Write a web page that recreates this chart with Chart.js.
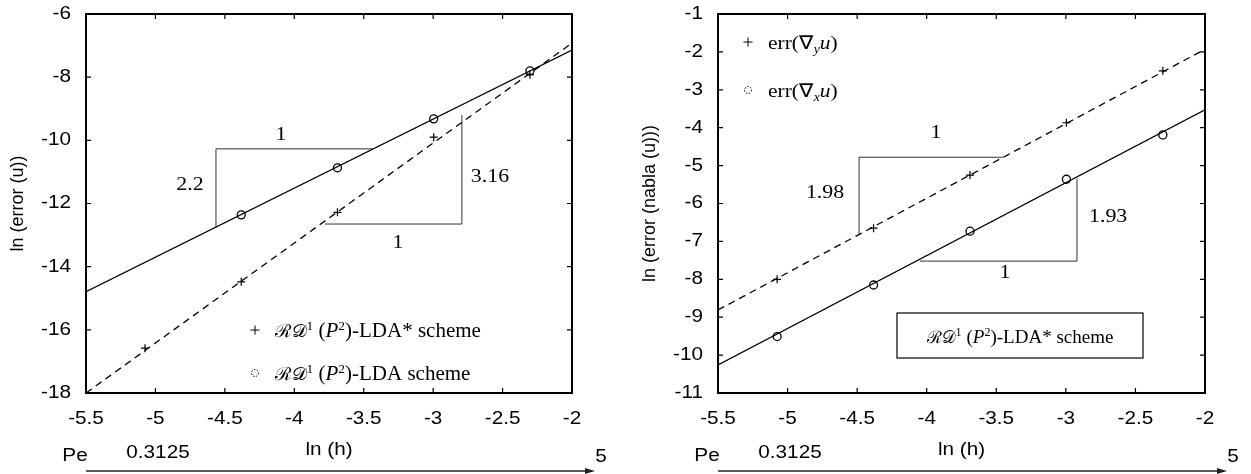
<!DOCTYPE html>
<html>
<head>
<meta charset="utf-8">
<script src="https://cdn.jsdelivr.net/npm/chart.js@4.4.1/dist/chart.umd.min.js"></script>
<style>
    html, body { margin: 0; padding: 0; background: #fff; }
    #wrap { position: relative; width: 1251px; height: 474px; }
    canvas { position: absolute; top: 0; }
    #leftChart { left: 0; }
    #rightChart { left: 625px; }
</style>
</head>
<body>
<div id="wrap">
    <canvas id="leftChart" width="625" height="474"></canvas>
    <canvas id="rightChart" width="626" height="474"></canvas>
</div>
<script>
// ln(h) for h = 1/160, 1/80, 1/40, 1/20, 1/10
const lnH = [-5.075, -4.382, -3.689, -2.996, -2.303];
const xTicks = { min: -5.5, max: -2, step: 0.5 };

// left panel: ln(error(u))
const ldaStar = [-16.58, -14.48, -12.28, -9.9, -7.92];
const ldaPlain = [null, -12.36, -10.87, -9.32, -7.8];
const ldaStarFit = [[-5.5, -18.0], [-2.0, -6.92]];
const ldaPlainFit = [[-5.5, -14.79], [-2.0, -7.14]];
const leftTriA = [[-4.564, -12.75], [-4.564, -10.27], [-3.437, -10.27]];
const leftTriB = [[-3.78, -12.65], [-2.793, -12.65], [-2.793, -9.2]];
const leftSlopeText = ['1', '2.2', '3.16', '1'];
const leftSlopeAt = [[-4.096, -9.83], [-4.751, -11.41], [-2.591, -11.16], [-3.254, -13.25]];
const leftY = { min: -18, max: -6, step: 2 };

// right panel: ln(error(nabla(u)))
const errGradY = [-8.0, -6.65, -5.25, -3.87, -2.5];
const errGradX = [-9.51, -8.15, -6.73, -5.36, -4.19];
const errGradYFit = [[-5.5, -8.81], [-2.0, -1.93]];
const errGradXFit = [[-5.5, -10.26], [-2.0, -3.53]];
const rightTriA = [[-4.486, -6.83], [-4.486, -4.78], [-3.449, -4.78]];
const rightTriB = [[-4.049, -7.52], [-2.92, -7.52], [-2.92, -5.34]];
const rightSlopeText = ['1', '1.98', '1.93', '1'];
const rightSlopeAt = [[-3.933, -4.14], [-4.731, -5.72], [-2.696, -6.36], [-3.437, -7.83]];
const rightY = { min: -11, max: -1, step: 1 };

const SANS = "'Liberation Sans', Arial, sans-serif";
const SERIF = "'Liberation Serif', 'Times New Roman', serif";
const SCRIPT = "'DejaVu Serif', serif";
const STRETCH = 1.15; // the original figure is a bit wider than tall

const schemeStar = [
    { t: 'ℛ𝒟', family: SCRIPT, scale: 0.9 }, { t: '1', sup: true }, { t: ' (' },
    { t: 'P', italic: true }, { t: '2', sup: true }, { t: ')-LDA* scheme' }
];
const schemePlain = [
    { t: 'ℛ𝒟', family: SCRIPT, scale: 0.9 }, { t: '1', sup: true }, { t: ' (' },
    { t: 'P', italic: true }, { t: '2', sup: true }, { t: ')-LDA scheme' }
];
const gradY = [{ t: 'err(∇' }, { t: 'y', italic: true, sub: true }, { t: 'u', italic: true }, { t: ')' }];
const gradX = [{ t: 'err(∇' }, { t: 'x', italic: true, sub: true }, { t: 'u', italic: true }, { t: ')' }];

function pts(xs, ys) {
    return xs.map((x, i) => ({ x: x, y: ys[i] })).filter(p => p.y !== null);
}
function pairs(arr) {
    return arr.map(p => ({ x: p[0], y: p[1] }));
}
function fmt(v) {
    return String(Math.round(v * 10) / 10);
}

// plain text, stretched horizontally around its anchor
function text(ctx, s, x, y, font, align, baseline, sx) {
    ctx.save();
    ctx.translate(x, y);
    ctx.scale(sx || STRETCH, 1);
    ctx.font = font;
    ctx.textAlign = align;
    ctx.textBaseline = baseline;
    ctx.fillText(s, 0, 0);
    ctx.restore();
}

function drawRich(ctx, runs, x, y, size, align, sx) {
    const parts = runs.map(r => {
        let s = r.sup || r.sub ? size * 0.64 : size;
        if (r.scale) s = s * r.scale;
        const font = (r.italic ? 'italic ' : '') + s + 'px ' + (r.family || SERIF);
        ctx.font = font;
        const dy = r.sup ? -size * 0.36 : (r.sub ? size * 0.22 : 0);
        return { t: r.t, font: font, w: ctx.measureText(r.t).width, dy: dy };
    });
    const total = parts.reduce((a, p) => a + p.w, 0);
    ctx.save();
    ctx.translate(x, y);
    ctx.scale(sx, 1);
    let cx = align === 'center' ? -total / 2 : 0;
    ctx.textAlign = 'left';
    ctx.textBaseline = 'alphabetic';
    parts.forEach(p => {
        ctx.font = p.font;
        ctx.fillText(p.t, cx, p.dy);
        cx += p.w;
    });
    ctx.restore();
}

function drawPlus(ctx, x, y, r) {
    ctx.beginPath();
    ctx.moveTo(x - r, y); ctx.lineTo(x + r, y);
    ctx.moveTo(x, y - r); ctx.lineTo(x, y + r);
    ctx.stroke();
}

const extrasPlugin = {
    id: 'extras',
    afterDatasetsDraw(chart, args, opts) {
        const ctx = chart.ctx;
        const a = chart.chartArea;
        const xs = chart.scales.x, ys = chart.scales.y;
        const sans = '18px ' + SANS;
        ctx.save();
        ctx.fillStyle = '#000';
        ctx.strokeStyle = '#000';

        // frame
        ctx.lineWidth = 2;
        ctx.strokeRect(a.left, a.top, a.right - a.left, a.bottom - a.top);

        // inner tick marks on all four sides, plus tick labels
        ctx.lineWidth = 1.2;
        ctx.beginPath();
        xs.ticks.forEach(t => {
            const px = xs.getPixelForValue(t.value);
            ctx.moveTo(px, a.bottom); ctx.lineTo(px, a.bottom - 5);
            ctx.moveTo(px, a.top); ctx.lineTo(px, a.top + 5);
        });
        ys.ticks.forEach(t => {
            const py = ys.getPixelForValue(t.value);
            ctx.moveTo(a.left, py); ctx.lineTo(a.left + 5, py);
            ctx.moveTo(a.right, py); ctx.lineTo(a.right - 5, py);
        });
        ctx.stroke();
        xs.ticks.forEach(t => {
            text(ctx, fmt(t.value), xs.getPixelForValue(t.value), a.bottom + 26, sans, 'center', 'middle');
        });
        ys.ticks.forEach(t => {
            text(ctx, fmt(t.value), a.left - 15, ys.getPixelForValue(t.value), sans, 'right', 'middle');
        });

        // slope labels
        opts.slopeText.forEach((s, i) => {
            const p = opts.slopeAt[i];
            text(ctx, s, xs.getPixelForValue(p[0]), ys.getPixelForValue(p[1]), '19px ' + SERIF, 'center', 'middle');
        });

        // axis titles
        text(ctx, 'ln (h)', (a.left + a.right) / 2, 450, sans, 'center', 'middle');
        ctx.save();
        ctx.translate(a.left - 68, (a.top + a.bottom) / 2);
        ctx.rotate(-Math.PI / 2);
        ctx.font = sans;
        ctx.textAlign = 'center';
        ctx.textBaseline = 'middle';
        ctx.fillText(opts.yTitle, 0, 0);
        ctx.restore();

        // Pe axis
        text(ctx, 'Pe', a.left - 11, 456, sans, 'center', 'middle');
        text(ctx, '0.3125', a.left + 72, 453, sans, 'center', 'middle');
        text(ctx, '5', a.left + 515, 457, sans, 'center', 'middle');
        const tip = a.left + 509;
        ctx.strokeStyle = '#222';
        ctx.lineWidth = 1.5;
        ctx.beginPath();
        ctx.moveTo(a.left, 471); ctx.lineTo(tip - 6, 471);
        ctx.stroke();
        ctx.beginPath();
        ctx.moveTo(tip, 471); ctx.lineTo(tip - 10, 468); ctx.lineTo(tip - 10, 474);
        ctx.closePath();
        ctx.fillStyle = '#222';
        ctx.fill();

        // legends
        ctx.fillStyle = '#000';
        ctx.strokeStyle = '#000';
        ctx.lineWidth = 1;
        opts.legend.forEach(row => {
            const mx = a.left + row.dx;
            if (row.marker === 'plus') {
                drawPlus(ctx, mx, row.y, 4.5);
            } else {
                ctx.setLineDash([1.5, 1.5]);
                ctx.beginPath();
                ctx.arc(mx, row.y, 3.5, 0, Math.PI * 2);
                ctx.stroke();
                ctx.setLineDash([]);
            }
            drawRich(ctx, row.runs, mx + 20, row.y + 7, opts.legendSize, 'left', opts.legendStretch);
        });
        if (opts.box) {
            const b = opts.box;
            ctx.lineWidth = 1.2;
            ctx.strokeRect(a.left + b.dx, b.y, b.w, b.h);
            drawRich(ctx, b.runs, a.left + b.dx + b.w / 2, b.y + b.h / 2 + 7, 19, 'center', 1.0);
        }
        ctx.restore();
    }
};

function makeChart(id, cfg) {
    return new Chart(document.getElementById(id), {
        type: 'scatter',
        data: {
            datasets: [
                { data: pairs(cfg.fitA), showLine: true, borderColor: '#000', borderWidth: 1.3, borderDash: [7, 5], pointRadius: 0 },
                { data: pairs(cfg.fitB), showLine: true, borderColor: '#000', borderWidth: 1.3, pointRadius: 0 },
                { data: pairs(cfg.triA), showLine: true, borderColor: '#333', borderWidth: 1, pointRadius: 0 },
                { data: pairs(cfg.triB), showLine: true, borderColor: '#333', borderWidth: 1, pointRadius: 0 },
                { data: pts(lnH, cfg.plus), pointStyle: 'cross', pointRadius: 4, borderColor: '#000', borderWidth: 1.2 },
                { data: pts(lnH, cfg.circ), pointStyle: 'circle', pointRadius: 4, borderColor: '#000', backgroundColor: 'rgba(0,0,0,0)', borderWidth: 1.3 }
            ]
        },
        options: {
            responsive: false,
            animation: false,
            events: [],
            layout: { padding: { top: 14, right: cfg.padRight, left: 0, bottom: 0 } },
            plugins: {
                legend: { display: false },
                tooltip: { enabled: false },
                extras: cfg.extras
            },
            scales: {
                x: {
                    type: 'linear', min: xTicks.min, max: xTicks.max,
                    border: { display: false },
                    grid: { display: false, drawTicks: false },
                    ticks: { stepSize: xTicks.step, display: false },
                    afterFit: s => { s.height = 474 - 393; }
                },
                y: {
                    type: 'linear', min: cfg.y.min, max: cfg.y.max,
                    border: { display: false },
                    grid: { display: false, drawTicks: false },
                    ticks: { stepSize: cfg.y.step, display: false },
                    afterFit: s => { s.width = cfg.leftW; }
                }
            }
        },
        plugins: [extrasPlugin]
    });
}

makeChart('leftChart', {
    fitA: ldaStarFit, fitB: ldaPlainFit, triA: leftTriA, triB: leftTriB,
    plus: ldaStar, circ: ldaPlain, y: leftY, leftW: 86, padRight: 53,
    extras: {
        yTitle: 'ln (error (u))',
        slopeText: leftSlopeText, slopeAt: leftSlopeAt,
        legendSize: 20, legendStretch: 1.05,
        legend: [
            { marker: 'plus', dx: 169, y: 330, runs: schemeStar },
            { marker: 'circle', dx: 169, y: 373, runs: schemePlain }
        ]
    }
});

makeChart('rightChart', {
    fitA: errGradYFit, fitB: errGradXFit, triA: rightTriA, triB: rightTriB,
    plus: errGradY, circ: errGradX, y: rightY, leftW: 93, padRight: 46,
    extras: {
        yTitle: 'ln (error (nabla (u)))',
        slopeText: rightSlopeText, slopeAt: rightSlopeAt,
        legendSize: 19, legendStretch: 1.13,
        legend: [
            { marker: 'plus', dx: 30, y: 42, runs: gradY },
            { marker: 'circle', dx: 30, y: 90, runs: gradX }
        ],
        box: { dx: 179, y: 313, w: 246, h: 45, runs: schemeStar }
    }
});
</script>
</body>
</html>
